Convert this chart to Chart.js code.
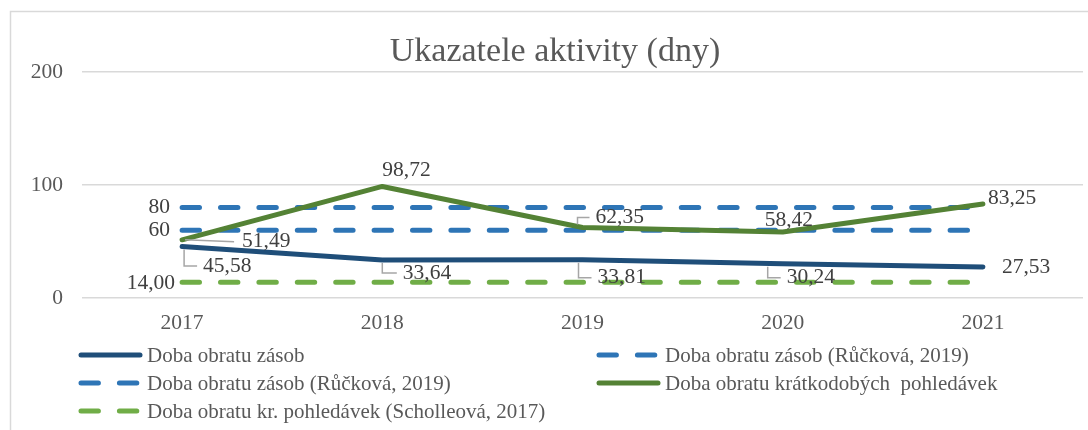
<!DOCTYPE html>
<html>
<head>
<meta charset="utf-8">
<script src="https://cdn.jsdelivr.net/npm/chart.js@4/dist/chart.umd.min.js"></script>
<style>
  body { margin: 0; background: #fff; }
  #wrap { width: 1088px; height: 430px; }
</style>
</head>
<body>
<div id="wrap"><canvas id="activityChart" width="1088" height="430"></canvas></div>
<script>
// Ukazatele aktivity - data
const years = ['2017', '2018', '2019', '2020', '2021'];
const obratZasob = [45.58, 33.64, 33.81, 30.24, 27.53];
const zasobRuckova80 = [80, 80, 80, 80, 80];
const zasobRuckova60 = [60, 60, 60, 60, 60];
const obratPohledavek = [51.49, 98.72, 62.35, 58.42, 83.25];
const pohledavkyScholleova = [14, 14, 14, 14, 14];
const yTicks = [0, 100, 200];

const serif = '"Liberation Serif", "Times New Roman", serif';

// where each data label sits relative to its point (dx, dy in px), plus leader lines
const labelPlaces = [
    [
        { dx: 21, dy: 19.5, leader: 'elbow', lx: 2 },
        { dx: 20.5, dy: 13, leader: 'elbow', lx: 0 },
        { dx: 15, dy: 18, leader: 'elbow', lx: -4 },
        { dx: 4, dy: 14, leader: 'elbow', lx: -15 },
        { dx: 19, dy: 0 }
    ],
    [{ dx: -12, dy: 0, align: 'right' }, null, null, null, null],
    [{ dx: -12, dy: 0, align: 'right' }, null, null, null, null],
    [
        { dx: 60, dy: 2, leader: 'straight' },
        { dx: 0, dy: -16 },
        { dx: 13, dy: -10, leader: 'elbow', lx: -5 },
        { dx: -18, dy: -12 },
        { dx: 5, dy: -6 }
    ],
    [{ dx: -7, dy: 1, align: 'right' }, null, null, null, null]
];
const labelDecimals = [2, 0, 0, 2, 2];

function fmt(v, dec) {
    return v.toFixed(dec).replace('.', ',');
}

// chart frame (Excel-like outer border)
const framePlugin = {
    id: 'frame',
    beforeDraw(chart) {
        const ctx = chart.ctx;
        ctx.save();
        ctx.strokeStyle = '#d9d9d9';
        ctx.lineWidth = 1.5;
        ctx.strokeRect(10.5, 11.5, 1100, 500);
        ctx.restore();
    }
};

// data labels with leader lines
const labelPlugin = {
    id: 'pointLabels',
    afterDatasetsDraw(chart) {
        const ctx = chart.ctx;
        ctx.save();
        ctx.font = '21.5px ' + serif;
        ctx.textBaseline = 'middle';
        chart.data.datasets.forEach((ds, i) => {
            const meta = chart.getDatasetMeta(i);
            labelPlaces[i].forEach((p, j) => {
                if (!p) return;
                const pt = meta.data[j];
                const tx = pt.x + p.dx;
                const ty = pt.y + p.dy;
                if (p.leader) {
                    ctx.strokeStyle = '#a6a6a6';
                    ctx.lineWidth = 1.5;
                    ctx.setLineDash([]);
                    ctx.beginPath();
                    if (p.leader === 'elbow') {
                        const sy = pt.y + (p.dy > 0 ? 3 : -3);
                        ctx.moveTo(pt.x + p.lx, sy);
                        ctx.lineTo(pt.x + p.lx, ty);
                        ctx.lineTo(tx - 6, ty);
                    } else {
                        ctx.moveTo(pt.x + 3, pt.y);
                        ctx.lineTo(tx - 8, ty);
                    }
                    ctx.stroke();
                }
                ctx.fillStyle = '#404040';
                ctx.textAlign = p.align || 'left';
                ctx.fillText(fmt(ds.data[j], labelDecimals[i]), tx, ty);
            });
        });
        ctx.restore();
    }
};

// two-column legend at the bottom, row by row like Excel
const legendPlugin = {
    id: 'twoColLegend',
    afterDraw(chart) {
        const ctx = chart.ctx;
        ctx.save();
        ctx.font = '21px ' + serif;
        ctx.textBaseline = 'middle';
        ctx.textAlign = 'left';
        chart.data.datasets.forEach((ds, i) => {
            const col = i % 2;
            const row = Math.floor(i / 2);
            const x0 = col ? 597 : 79;
            const y = 355 + row * 28;
            ctx.strokeStyle = ds.borderColor;
            ctx.lineWidth = 5;
            ctx.lineCap = 'round';
            ctx.setLineDash(ds.borderDash || []);
            ctx.beginPath();
            ctx.moveTo(x0 + 2, y);
            ctx.lineTo(x0 + 61, y);
            ctx.stroke();
            ctx.fillStyle = '#595959';
            ctx.fillText(ds.label, x0 + 68, y + 1);
        });
        ctx.restore();
    }
};

// first series at the bottom, like Excel (higher order = drawn earlier)
const solid = (label, data, color, order) => ({
    label, data, order,
    borderColor: color,
    backgroundColor: color,
    borderWidth: 5,
    borderCapStyle: 'round',
    borderJoinStyle: 'round',
    pointRadius: 0,
    tension: 0
});
const dashed = (label, data, color, order) => ({
    ...solid(label, data, color, order),
    borderDash: [17.4, 21]
});

const ctx = document.getElementById('activityChart').getContext('2d');
new Chart(ctx, {
    type: 'line',
    data: {
        labels: years,
        datasets: [
            solid('Doba obratu zásob', obratZasob, '#1f4e79', 5),
            dashed('Doba obratu zásob (Růčková, 2019)', zasobRuckova80, '#2e75b6', 4),
            dashed('Doba obratu zásob (Růčková, 2019)', zasobRuckova60, '#2e75b6', 3),
            solid('Doba obratu krátkodobých  pohledávek', obratPohledavek, '#548235', 2),
            dashed('Doba obratu kr. pohledávek (Scholleová, 2017)', pohledavkyScholleova, '#70ad47', 1)
        ]
    },
    options: {
        responsive: false,
        animation: false,
        layout: { padding: { left: 27, right: 5, top: 0, bottom: 92 } },
        plugins: {
            legend: { display: false },
            tooltip: { enabled: false },
            title: {
                display: true,
                text: 'Ukazatele aktivity (dny)',
                color: '#595959',
                font: { family: serif, size: 34, weight: 'normal', lineHeight: 1.1 },
                padding: { top: 33, bottom: 1.6 }
            }
        },
        scales: {
            x: {
                offset: true,
                grid: { display: false, drawTicks: false },
                border: { display: false },
                ticks: { color: '#595959', font: { family: serif, size: 21.5 }, padding: 12 },
                afterFit(scale) { scale.height = 40; }
            },
            y: {
                min: 0,
                max: 200,
                afterBuildTicks(scale) { scale.ticks = yTicks.map(v => ({ value: v })); },
                grid: { color: '#d9d9d9', lineWidth: 1.5, drawTicks: false },
                border: { display: false },
                ticks: { color: '#595959', font: { family: serif, size: 21.5 }, padding: 19 },
                afterFit(scale) { scale.width = 55; }
            }
        }
    },
    plugins: [framePlugin, labelPlugin, legendPlugin]
});
</script>
</body>
</html>
